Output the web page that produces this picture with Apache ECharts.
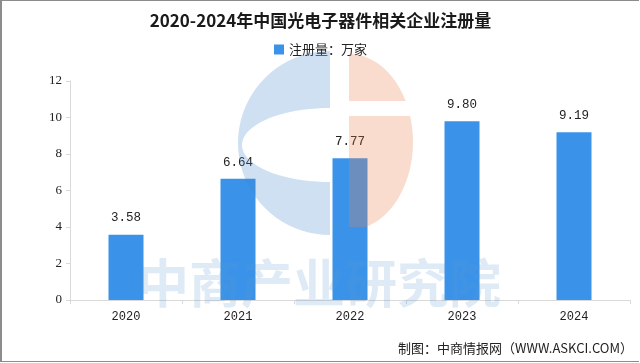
<!DOCTYPE html>
<html>
<head>
<meta charset="utf-8">
<script src="https://cdn.jsdelivr.net/npm/echarts@6/dist/echarts.min.js"></script>
<style>
html,body{margin:0;padding:0;background:#fff;}
#frame{position:absolute;left:0;top:0;width:636px;height:359px;border:2px solid #8c8c8c;border-top-width:1px;border-right-width:1px;background:#fff;}
#chart{width:637px;height:360px;}
</style>
</head>
<body>
<div id="frame"><div id="chart"></div></div>
<script>
const categories = ['2020', '2021', '2022', '2023', '2024'];
const registrations = [3.58, 6.64, 7.77, 9.80, 9.19];
const yTicks = [0, 2, 4, 6, 8, 10, 12];
const titleText = '2020-2024年中国光电子器件相关企业注册量';
const legendName = '注册量：万家';
const sourceText = '制图：中商情报网（WWW.ASKCI.COM）';
const watermarkText = '中商产业研究院';

// watermark logo outline (decoration only)
function blueLogo() {
  const pts = [];
  const cx = 328, cy = 142, R = 92, rx = 88, ry = 37, ecy = 144;
  for (let i = 0; i <= 40; i++) {
    const a = -Math.PI / 2 - Math.PI * i / 40;
    pts.push([cx + R * Math.cos(a), cy + R * Math.sin(a)]);
  }
  for (let i = 0; i <= 40; i++) {
    const a = Math.PI / 2 + Math.PI * i / 40;
    pts.push([cx + rx * Math.cos(a), ecy + ry * Math.sin(a)]);
  }
  return pts;
}
function orangeLogo(yTop, yBot) {
  const cx = 347, cy = 141, rx = 64, ry = 88;
  const a0 = Math.asin(Math.max(-1, Math.min(1, (yTop - cy) / ry)));
  const a1 = Math.asin(Math.max(-1, Math.min(1, (yBot - cy) / ry)));
  const pts = [[cx, yTop]];
  for (let i = 0; i <= 30; i++) {
    const a = a0 + (a1 - a0) * i / 30;
    pts.push([cx + rx * Math.cos(a), cy + ry * Math.sin(a)]);
  }
  pts.push([cx, yBot]);
  return pts;
}

const chart = echarts.init(document.getElementById('chart'));
chart.setOption({
  backgroundColor: '#ffffff',
  animation: false,
  title: {
    text: titleText,
    left: 'center',
    top: 6,
    textStyle: {fontFamily: 'Noto Sans CJK SC', fontWeight: 'bold', fontSize: 17, color: '#1a1a1a'}
  },
  legend: {
    data: [legendName],
    top: 37,
    left: 'center',
    itemWidth: 10,
    itemHeight: 10,
    icon: 'rect',
    itemGap: 6,
    textStyle: {fontFamily: 'Noto Sans CJK SC', fontSize: 13, color: '#222'}
  },
  grid: {left: 68, right: 9, top: 80, bottom: 61, containLabel: false},
  xAxis: {
    type: 'category',
    data: categories,
    axisLine: {lineStyle: {color: '#d9d9d9'}},
    axisTick: {show: true, alignWithLabel: false, length: 4, lineStyle: {color: '#d9d9d9'}},
    axisLabel: {fontFamily: 'Liberation Mono', fontSize: 12, color: '#222', margin: 11}
  },
  yAxis: {
    type: 'value',
    min: yTicks[0],
    max: yTicks[yTicks.length - 1],
    interval: 2,
    axisLine: {show: true, lineStyle: {color: '#d9d9d9'}},
    axisTick: {show: true, length: 4, lineStyle: {color: '#d9d9d9'}},
    splitLine: {show: false},
    axisLabel: {fontFamily: 'Liberation Serif', fontSize: 13, color: '#222', margin: 8}
  },
  series: [{
    name: legendName,
    type: 'bar',
    data: registrations,
    barWidth: 35,
    itemStyle: {color: '#3b93e9'},
    label: {
      show: true,
      position: 'top',
      distance: 10,
      formatter: p => p.value.toFixed(2),
      fontFamily: 'Liberation Mono',
      fontSize: 12.5,
      color: '#222'
    }
  }],
  graphic: [
    {type: 'polygon', z: 100, silent: true,
     shape: {points: blueLogo()},
     style: {fill: 'rgba(60,130,200,0.25)'}},
    {type: 'polygon', z: 100, silent: true,
     shape: {points: orangeLogo(53, 100)},
     style: {fill: 'rgba(235,130,80,0.28)'}},
    {type: 'polygon', z: 100, silent: true,
     shape: {points: orangeLogo(115, 226)},
     style: {fill: 'rgba(235,130,80,0.28)'}},
    {type: 'text', z: 103, silent: true, left: 135, top: 256,
     style: {text: watermarkText, fontFamily: 'Noto Sans CJK SC', fontWeight: 'bold', fontSize: 52,
             fill: 'rgba(90,150,205,0.2)'}},
    {type: 'text', z: 104, right: 6, top: 341,
     style: {text: sourceText, fontFamily: 'Noto Sans CJK SC', fontSize: 13, fill: '#222'}}
  ]
});
</script>
</body>
</html>
